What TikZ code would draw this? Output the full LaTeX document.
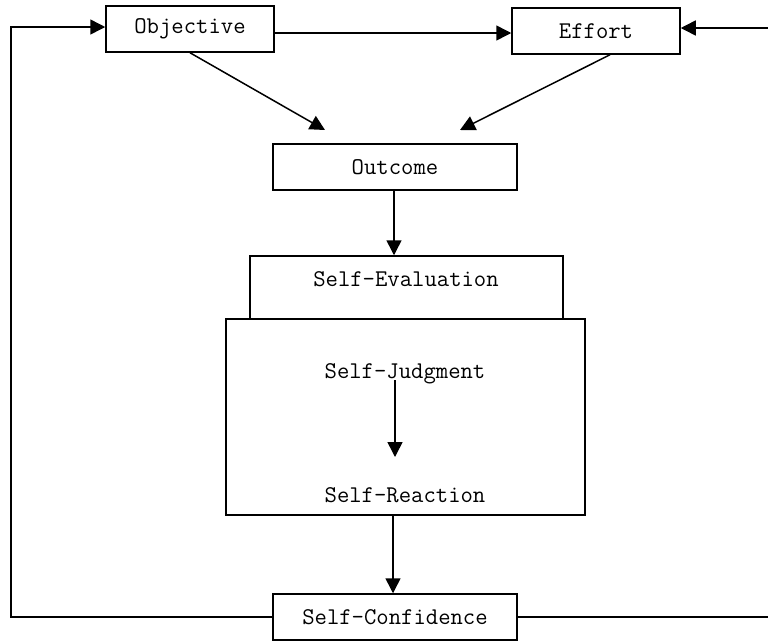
\documentclass[tikz,border=0pt]{standalone}
\usepackage{tikz}
\usetikzlibrary{positioning,calc,arrows.meta}

\begin{document}
\begin{tikzpicture}[x=1pt,y=-1pt,
    box/.style={draw,line width=1.5pt,inner sep=0pt,minimum height=46pt,font=\ttfamily\fontsize{24}{28}\selectfont},
    lbl/.style={inner sep=0pt,font=\ttfamily\fontsize{24}{28}\selectfont},
    arr/.style={line width=1.5pt,-{Triangle[length=15pt,width=15pt]}},
    lin/.style={line width=1.5pt}]
        \useasboundingbox (0,0) rectangle (768,641);
        \clip (0,0) rectangle (768,641);

        % Top row
        \node[box,minimum width=168pt] (obj) at (190,29) {Objective};
        \node[box,minimum width=168pt] (eff) at (596,31) {Effort};

        % Outcome
        \node[box,minimum width=244pt] (out) at (395,167) {Outcome};

        % Self-Evaluation block
        \node[box,minimum width=313pt,minimum height=63pt] (eval) at (406.5,287.5) {};
        \node[lbl] (evaltxt) at (406,279) {Self-Evaluation};
        \node[box,minimum width=359pt,minimum height=196pt] (core) at (405.5,417) {};
        \node[lbl] (judg) at (405,374) {Self-Judgment};
        \node[lbl] (react) at (405,495) {Self-Reaction};

        % Self-Confidence
        \node[box,minimum width=244pt] (conf) at (395,617) {Self-Confidence};

        % Free ends
        \coordinate (oc1) at (325,130);
        \coordinate (oc2) at (460,130);
        \coordinate (j1) at (395,380);
        \coordinate (j2) at (395,457);
        \coordinate (lft) at (11,27);
        \coordinate (rgt) at (769,28);

        % Connectors
        \draw[arr] ([yshift=-4pt]obj.east) -- ([yshift=-4pt]obj.east -| eff.west);
        \draw[arr] (obj.south) -- (oc1);
        \draw[arr] ([xshift=14pt]eff.south) -- (oc2);
        \draw[arr] ([xshift=-1pt]out.south) -- ([xshift=-1pt]out.south |- eval.north);
        \draw[arr] (j1) -- (j2);
        \draw[arr] ([xshift=-2pt]conf.north |- core.south) -- ([xshift=-2pt]conf.north);

        % Feedback loops
        \draw[arr] (conf.west) -| (lft) -- ([yshift=2pt]obj.west);
        \draw[arr] (conf.east) -| (rgt) -- ([yshift=3pt]eff.east);
    \end{tikzpicture}
\end{document}
